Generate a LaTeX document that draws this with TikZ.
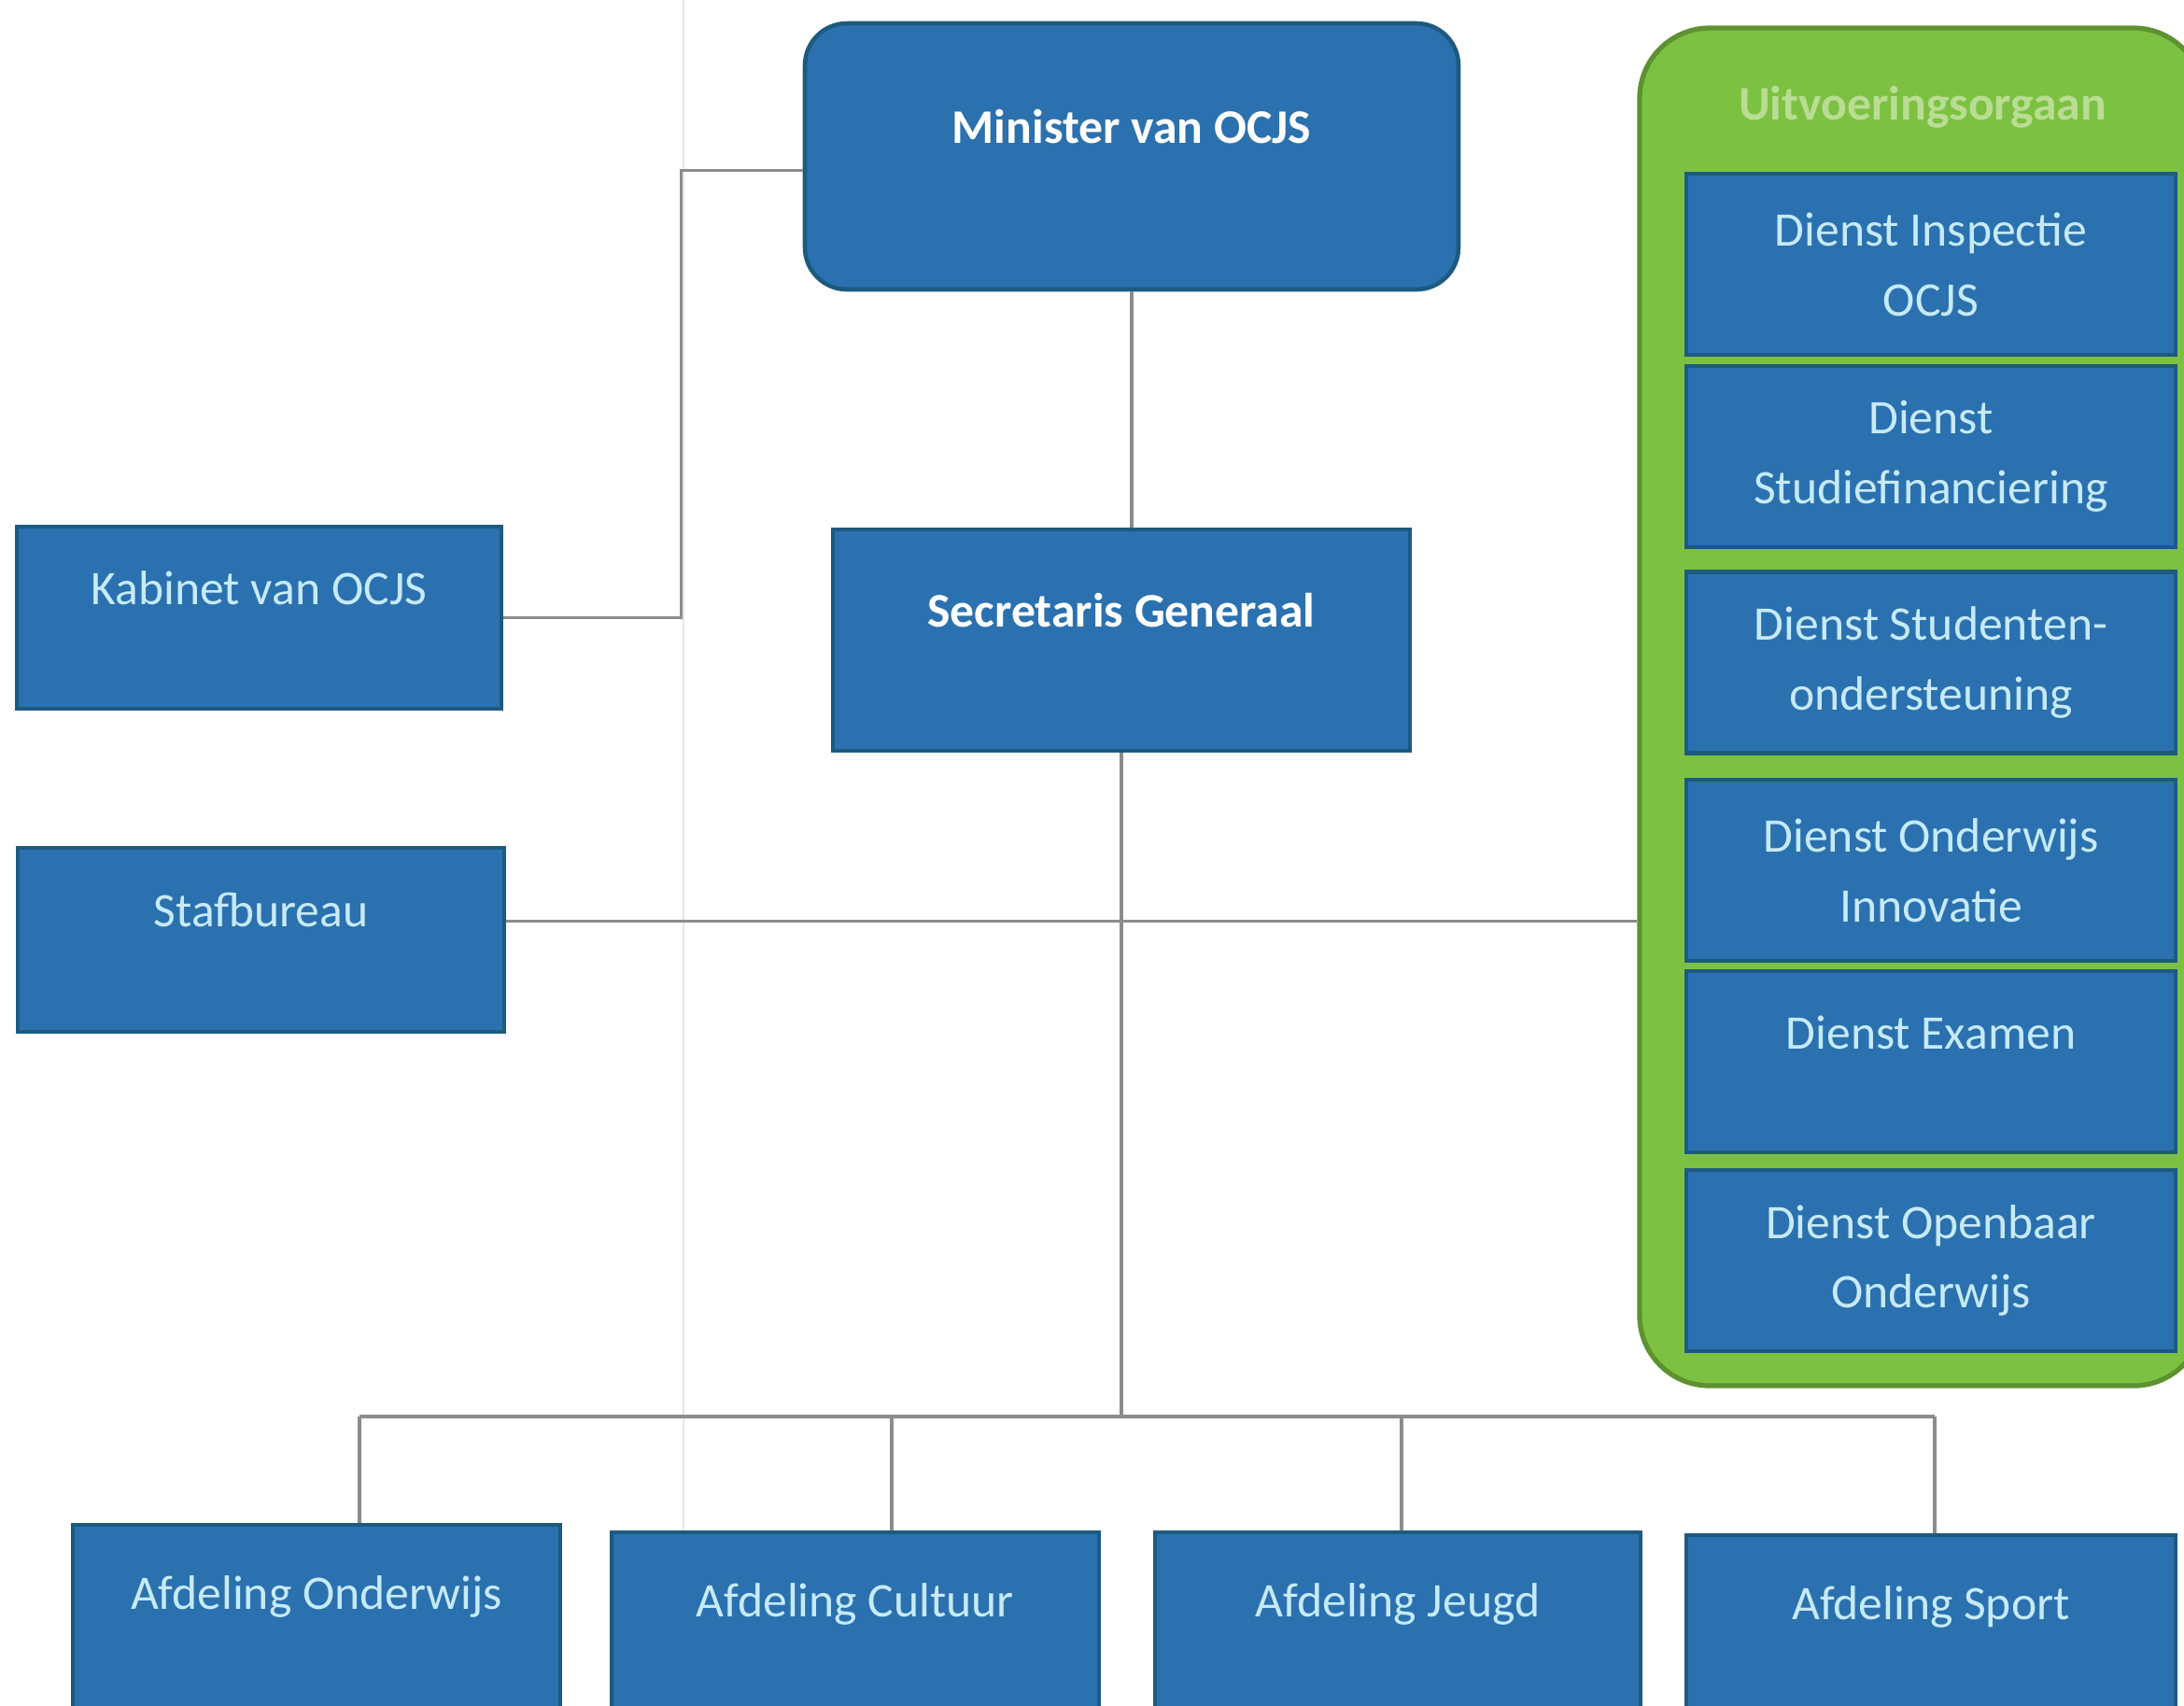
\documentclass[tikz,border=0pt]{standalone}
\usepackage{fontspec}
\setmainfont{Carlito}
\usetikzlibrary{positioning}

\definecolor{ocjsblue}{HTML}{2B71AF}
\definecolor{ocjsedge}{HTML}{1D5A80}
\definecolor{ocjstext}{HTML}{C6EAF8}
\definecolor{ocjsgreen}{HTML}{7DC143}
\definecolor{ocjsgreenedge}{HTML}{5E9130}
\definecolor{ocjstitle}{HTML}{B9DD93}
\definecolor{ocjsline}{HTML}{8C8C8C}

\begin{document}
\begin{tikzpicture}[
  unit/.style={draw=ocjsedge,line width=1.3pt,fill=ocjsblue,text=ocjstext,inner sep=0pt,align=center,
    font=\fontsize{14.7}{21.3}\selectfont},
  oneline/.style={text height=0.4cm,text depth=0.68cm},
  afd/.style={unit,minimum height=2.8cm,text height=0.4cm,text depth=1.4cm},
  link/.style={draw=ocjsline,line width=0.9pt}
]
\clip (0,0) rectangle (23.39,-18.26);
\fill[white] (0,0) rectangle (23.39,-18.26);

% gutter of the scan
\draw[gray!20,line width=0.6pt] (7.32,0) -- (7.32,-18.26);

\node[unit,oneline,rounded corners=0.45cm,minimum width=7cm,minimum height=2.85cm,text=white,font=\fontsize{14.7}{21.3}\selectfont\bfseries] (min) at (12.12,-1.675) {Minister van OCJS};
\node[unit,oneline,minimum width=5.19cm,minimum height=1.95cm] (kab) at (2.775,-6.615) {Kabinet van OCJS};
\node[unit,oneline,minimum width=5.21cm,minimum height=1.97cm] (staf) at (2.795,-10.065) {Stafbureau};
\node[unit,oneline,minimum width=6.18cm,minimum height=2.37cm,text=white,font=\fontsize{14.7}{21.3}\selectfont\bfseries] (sg) at (12.01,-6.855) {Secretaris Generaal};

% uitvoeringsorgaan
\node[draw=ocjsgreenedge,line width=1.5pt,fill=ocjsgreen,rounded corners=0.75cm,minimum width=6.04cm,minimum height=14.54cm] (uit) at (20.58,-7.57) {};
\node[text=ocjstitle,font=\fontsize{14.7}{21.3}\selectfont\bfseries] (uittitle) at (20.59,-1.15) {Uitvoeringsorgaan};

\node[unit,minimum width=5.24cm,minimum height=1.94cm] (dio) at (20.68,-2.83) {Dienst Inspectie\\OCJS};
\node[unit,minimum width=5.24cm,minimum height=1.94cm] (dsf) at (20.68,-4.89) {Dienst\\Studiefinanciering};
\node[unit,minimum width=5.24cm,minimum height=1.94cm] (dso) at (20.68,-7.095) {Dienst Studenten-\\ondersteuning};
\node[unit,minimum width=5.24cm,minimum height=1.94cm] (doi) at (20.68,-9.32) {Dienst Onderwijs\\Innovatie};
\node[unit,oneline,minimum width=5.24cm,minimum height=1.94cm] (dex) at (20.68,-11.37) {Dienst Examen};
\node[unit,minimum width=5.24cm,minimum height=1.94cm] (doo) at (20.68,-13.50) {Dienst Openbaar\\Onderwijs};

% afdelingen
\node[afd,minimum width=5.22cm] (ond) at (3.39,-17.73) {Afdeling Onderwijs};
\node[afd,minimum width=5.22cm] (cul) at (9.16,-17.81) {Afdeling Cultuur};
\node[afd,minimum width=5.20cm] (jeu) at (14.97,-17.81) {Afdeling Jeugd};
\node[afd,minimum width=5.24cm] (spo) at (20.68,-17.84) {Afdeling Sport};

\coordinate (bus) at (12.05,-15.17);

\draw[link] ([yshift=-1.5mm]min.west) -- ++(-1.3,0) |- (kab.east);
\draw[link] (min.south) -- (min.south |- sg.north);
\draw[link] ([yshift=2mm]staf.east) -- ([yshift=2mm]staf.east -| uit.west);
\draw[link] (sg.south) -- (sg.south |- bus);
\draw[link] ([xshift=4.6mm]ond.north |- bus) -- ([xshift=0.4mm]spo.north |- bus);
\foreach \n/\dx in {ond/4.6mm,cul/3.9mm,jeu/0.4mm,spo/0.4mm}
  \draw[link] ([xshift=\dx]\n.north) -- ([xshift=\dx]\n.north |- bus);

\end{tikzpicture}
\end{document}
